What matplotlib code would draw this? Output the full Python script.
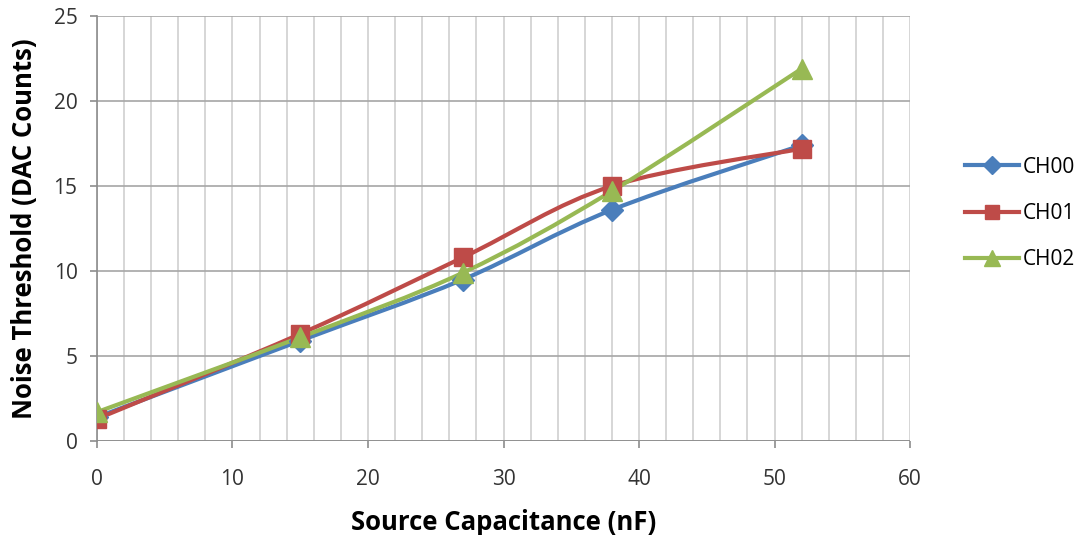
import numpy as np
import matplotlib.pyplot as plt
from matplotlib.path import Path
from matplotlib.patches import PathPatch
from matplotlib.lines import Line2D

plt.rcParams['font.family'] = ['Open Sans', 'DejaVu Sans']

# source capacitance (nF) and noise threshold per channel
cap = [0, 15, 27, 38, 52]
ch00 = [1.4, 5.9, 9.5, 13.6, 17.4]
ch01 = [1.3, 6.3, 10.8, 15.0, 17.2]
ch02 = [1.7, 6.1, 9.9, 14.7, 21.9]
names = ['CH00', 'CH01', 'CH02']
colors = ['#4a7ebb', '#be4b48', '#98b954']
markers = ['D', 's', '^']
msizes = [11, 13, 15]


def smooth_path(x, y, t=1 / 6):
    # cardinal-spline bezier through the points (spreadsheet style smoothing)
    pts = np.column_stack([x, y]).astype(float)
    verts = [pts[0]]
    codes = [Path.MOVETO]
    n = len(pts)
    for i in range(n - 1):
        p0 = pts[max(i - 1, 0)]
        p1 = pts[i]
        p2 = pts[i + 1]
        p3 = pts[min(i + 2, n - 1)]
        c1 = p1 + (p2 - p0) * t
        c2 = p2 - (p3 - p1) * t
        verts += [c1, c2, p2]
        codes += [Path.CURVE4] * 3
    return Path(verts, codes)


fig = plt.figure(figsize=(10.86, 5.35), dpi=100)
ax = fig.add_axes([0.0893, 0.1757, 0.7487, 0.7943])

for y, c, m, ms in zip([ch00, ch01, ch02], colors, markers, msizes):
    ax.add_patch(PathPatch(smooth_path(cap, y), fill=False, edgecolor=c,
                           lw=3, zorder=3, capstyle='round'))
    ax.plot(cap, y, ls='none', marker=m, ms=ms, color=c, zorder=4)

ax.set_xlim(0, 60)
ax.set_ylim(0, 25)
ax.set_xticks(np.arange(0, 61, 10))
ax.set_xticks(np.arange(0, 61, 2), minor=True)
ax.set_yticks(np.arange(0, 26, 5))
ax.grid(True, which='major', axis='y', color='#a6a6a6', lw=1.2)
ax.grid(True, which='both', axis='x', color='#d0d0d0', lw=1.2)
ax.set_axisbelow(True)
for s in ['top', 'right', 'bottom']:
    ax.spines[s].set_visible(False)
ax.spines['left'].set_color('#8c8c8c')
ax.spines['left'].set_linewidth(1.2)
ax.tick_params(axis='both', which='major', length=5, color='#8c8c8c',
               labelsize=15, labelcolor='#333333', width=1.2)
ax.tick_params(axis='x', which='minor', length=0)
ax.tick_params(axis='x', pad=15)
ax.tick_params(axis='y', pad=9)
ax.axhline(0, color='#8c8c8c', lw=1.2, zorder=2)

ax.set_xlabel('Source Capacitance (nF)', fontsize=18.5, fontweight='bold', labelpad=14)
ax.set_ylabel('Noise Threshold (DAC Counts)', fontsize=18.5, fontweight='bold', labelpad=11)

handles = [Line2D([], [], color=c, lw=3, marker=m, ms=ms * 0.8)
           for c, m, ms in zip(colors, markers, msizes)]
fig.legend(handles, names, loc='center left', bbox_to_anchor=(0.871, 0.601),
           frameon=False, fontsize=15, handlelength=2.6, handletextpad=0.2,
           labelspacing=1.22)

fig.savefig('out.png', dpi=100)
